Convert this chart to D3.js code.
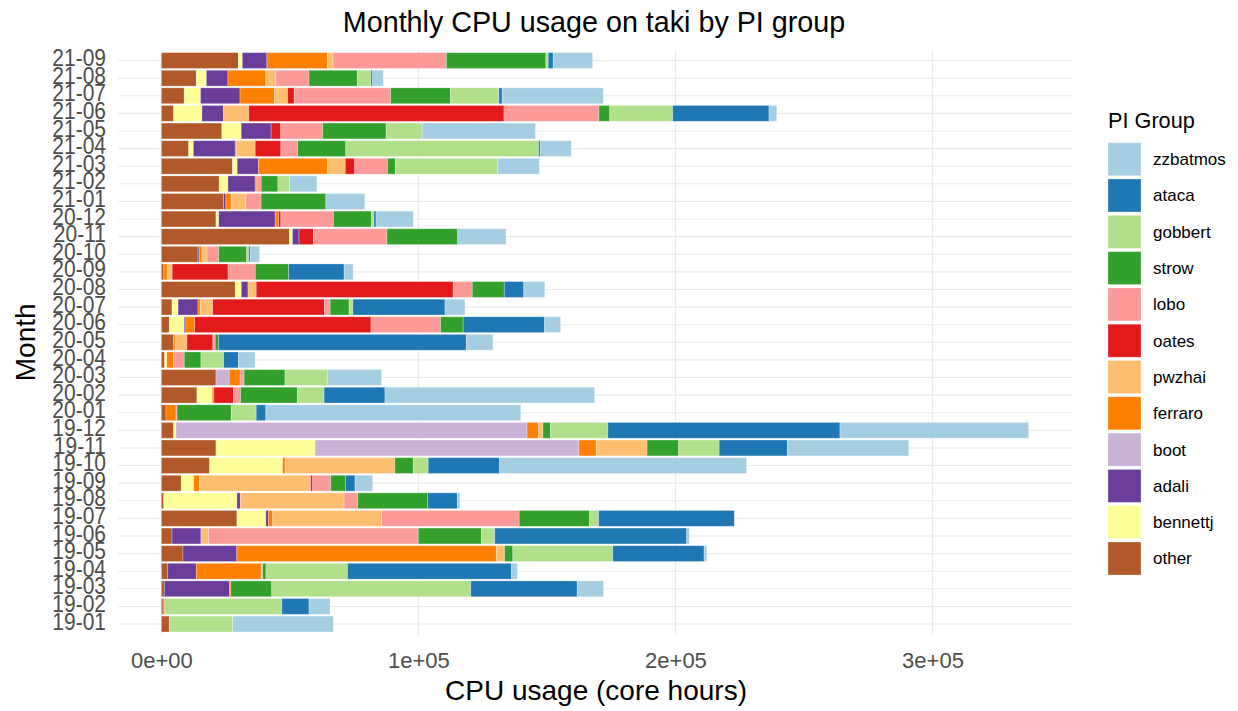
<!DOCTYPE html>
<html>
<head>
<meta charset="utf-8">
<script src="https://cdn.jsdelivr.net/npm/d3@7"></script>
<style>
  body { margin: 0; background: #fff; }
  text { font-family: "Liberation Sans", Arial, sans-serif; }
</style>
</head>
<body>
<svg id="chart" width="1238" height="711"></svg>
<script>
// Months, oldest first
const months = ["19-01","19-02","19-03","19-04","19-05","19-06","19-07","19-08","19-09","19-10","19-11","19-12",
  "20-01","20-02","20-03","20-04","20-05","20-06","20-07","20-08","20-09","20-10","20-11","20-12",
  "21-01","21-02","21-03","21-04","21-05","21-06","21-07","21-08","21-09"];

// PI groups in legend order, with their colours
const groups = ["zzbatmos","ataca","gobbert","strow","lobo","oates","pwzhai","ferraro","boot","adali","bennettj","other"];
const groupColors = ["#a6cee3","#1f78b4","#b2df8a","#33a02c","#fb9a99","#e31a1c","#fdbf6f","#ff7f00","#cab2d6","#6a3d9a","#ffff99","#b15928"];

// Core hours per month for each group
const other    = [3100,650,1150,2500,8400,4150,29400,950,7750,18800,21250,4800,1800,13850,21250,1300,4800,3100,4150,28750,950,14250,49850,21250,24200,22500,27700,10650,23550,4800,8900,13600,29950];
const bennettj = [0,0,0,0,0,0,11250,28450,4800,28350,38550,900,0,5950,0,800,0,5800,2350,2350,0,0,1150,1050,0,3400,1800,1800,7500,11000,6350,3900,1550];
const adali    = [0,0,25400,11100,20950,11250,1050,1300,0,0,0,0,0,0,0,0,0,650,7750,2600,0,500,2550,22000,900,10600,8300,16300,11650,8400,15350,8400,9550];
const boot     = [0,0,0,0,0,0,0,0,0,0,102650,136550,0,0,5150,0,0,0,0,0,0,0,0,0,0,0,0,0,0,0,0,0,0];
const ferraro  = [0,650,500,25250,100950,0,1650,0,2200,1000,6700,4500,3900,650,4250,2700,600,3400,900,0,1300,1050,0,1300,2050,650,26900,550,0,0,13450,14750,23550];
const pwzhai   = [0,0,0,550,3200,3000,42350,40400,43350,42700,19800,1700,0,0,0,0,4550,0,4800,3200,1950,1950,0,0,5700,0,6850,7200,0,9800,5050,3900,2200];
const oates    = [0,0,0,0,0,0,0,0,800,0,0,0,0,7650,0,0,10100,68600,43500,76650,21750,0,5600,900,0,0,3700,10000,3750,99300,2600,0,0];
const lobo     = [0,0,0,0,0,81550,53500,5300,7000,0,0,0,400,2700,1550,4100,900,27050,2200,7400,10600,4550,28600,20450,5950,1700,12700,6500,16300,36900,37500,12900,44100];
const strow    = [0,0,15900,1300,3250,24600,27400,27200,5700,7150,12300,2950,21100,22150,15900,6500,1300,8800,7400,12450,12950,10900,27550,14850,25200,6500,3100,18750,24700,4250,23300,18800,38700];
const gobbert  = [24600,45550,77400,31700,38850,5150,3500,0,0,5800,15750,22300,9700,10350,16450,8800,0,0,1450,0,0,800,0,900,0,4550,39850,75000,14000,24450,18800,5300,900];
const ataca    = [0,10600,41450,63800,35550,74700,52800,11550,3750,27800,26550,90300,3750,23700,0,5800,96400,31700,35850,7600,21600,600,0,800,0,0,0,650,0,37500,1300,650,1950];
const zzbatmos = [39200,8150,10200,2350,1050,1000,0,1000,6850,96050,47200,73400,99150,81550,21100,6450,10350,6200,7750,8150,3500,3650,18750,14500,15150,10600,16150,12050,44100,3000,39300,4150,15300];

const xTicks = [0, 1e5, 2e5, 3e5];
const xTickLabels = ["0e+00","1e+05","2e+05","3e+05"];

const series = {zzbatmos, ataca, gobbert, strow, lobo, oates, pwzhai, ferraro, boot, adali, bennettj, other};
const rows = months.map((m, i) => {
  const r = {month: m};
  groups.forEach(g => r[g] = series[g][i]);
  return r;
});

const svg = d3.select("#chart");
const panel = {left: 118, right: 1072, top: 50, bottom: 634.6};

// stack with "other" nearest the axis
const stackKeys = groups.slice().reverse();
const stacked = d3.stack().keys(stackKeys)(rows);
const maxTotal = d3.max(rows, r => d3.sum(groups, g => r[g]));

const x = d3.scaleLinear()
  .domain([-0.05 * maxTotal, 1.05 * maxTotal])
  .range([panel.left, panel.right]);

const y = d3.scalePoint()
  .domain(months.slice().reverse())
  .range([panel.top, panel.bottom])
  .padding(0.6);
const barH = y.step() * 0.9;

const color = d3.scaleOrdinal().domain(groups).range(groupColors);

// grid
const grid = svg.append("g");
grid.selectAll("line.h").data(months).join("line")
  .attr("x1", panel.left).attr("x2", panel.right)
  .attr("y1", d => y(d)).attr("y2", d => y(d))
  .attr("stroke", "#ebebeb").attr("stroke-width", 1.1);
grid.selectAll("line.v").data(xTicks).join("line")
  .attr("x1", d => x(d)).attr("x2", d => x(d))
  .attr("y1", panel.top).attr("y2", panel.bottom)
  .attr("stroke", "#ebebeb").attr("stroke-width", 1.1);

// bars
svg.append("g").selectAll("g").data(stacked).join("g")
  .attr("fill", d => color(d.key))
  .selectAll("rect").data(d => d.filter(s => s[1] > s[0])).join("rect")
  .attr("x", d => x(d[0]))
  .attr("width", d => x(d[1]) - x(d[0]))
  .attr("y", d => y(d.data.month) - barH / 2)
  .attr("height", barH)
  .attr("stroke", "rgba(255,255,255,0.35)")
  .attr("stroke-width", 0.8);

// axes
const xAxis = svg.append("g")
  .attr("transform", `translate(0,${panel.bottom})`)
  .call(d3.axisBottom(x).tickValues(xTicks).tickSize(0)
    .tickFormat((d, i) => xTickLabels[i]));
xAxis.select(".domain").remove();
xAxis.selectAll("text").attr("font-size", 22).attr("fill", "#4d4d4d")
  .attr("font-family", "Liberation Sans, Arial, sans-serif")
  .attr("y", 33).attr("dy", 0);

const yAxis = svg.append("g")
  .attr("transform", `translate(${panel.left - 12},0)`)
  .call(d3.axisLeft(y).tickSize(0).tickPadding(0));
yAxis.select(".domain").remove();
yAxis.selectAll("text").attr("font-size", 21).attr("fill", "#4d4d4d")
  .attr("font-family", "Liberation Sans, Arial, sans-serif")
  .attr("x", 0).attr("y", -2.8).attr("dy", "0.35em")
  .attr("transform", "scale(1,1.12)");

// titles
svg.append("text").attr("x", 594).attr("y", 32).attr("text-anchor", "middle")
  .attr("font-size", 28.7).attr("fill", "#000")
  .text("Monthly CPU usage on taki by PI group");
svg.append("text").attr("x", 596).attr("y", 700).attr("text-anchor", "middle")
  .attr("font-size", 28).attr("fill", "#000")
  .text("CPU usage (core hours)");
svg.append("text").attr("transform", `translate(35,${(panel.top + panel.bottom) / 2}) rotate(-90)`)
  .attr("text-anchor", "middle").attr("font-size", 28).attr("fill", "#000")
  .text("Month");

// legend
const legend = svg.append("g").attr("transform", "translate(1108,0)");
legend.append("text").attr("x", 0).attr("y", 128).attr("font-size", 21.7).text("PI Group");
const item = legend.selectAll("g.item").data(groups).join("g")
  .attr("transform", (d, i) => `translate(0,${142.7 + i * 36.3})`);
item.append("rect").attr("width", 33).attr("height", 33).attr("fill", d => color(d))
  .attr("stroke", "rgba(255,255,255,0.35)").attr("stroke-width", 0.8);
item.append("text").attr("x", 45).attr("y", 16.5).attr("dy", "0.35em")
  .attr("font-size", 17).attr("fill", "#000").text(d => d);
</script>
</body>
</html>
